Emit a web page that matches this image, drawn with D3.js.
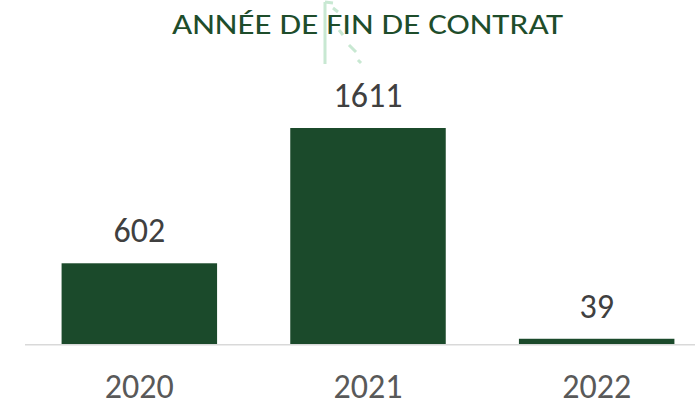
<!DOCTYPE html>
<html><head><meta charset="utf-8">
<script src="https://cdn.jsdelivr.net/npm/d3@7"></script>
<style>body{margin:0;background:#fff}svg{display:block}</style>
</head><body>
<svg id="c" width="695" height="408"></svg>
<script>
const categories = ["2020", "2021", "2022"];
const values = [602, 1611, 39];
const title = "ANNÉE DE FIN DE CONTRAT";

const svg = d3.select("#c");
const font = "Carlito, Lato, 'Open Sans', sans-serif";
const x = d3.scaleBand().domain(categories).range([25, 711]).paddingInner(0.32).paddingOuter(0.16);
const y = d3.scaleLinear().domain([0, 1611]).range([344, 128]);

// faint artifact near title
svg.append("path").attr("d", "M325,2 V64 M325,2 L333,3 M333,8 L338,12 M339,30 L343,35 M349,45 L356,52 M358,60 L361,63")
  .attr("stroke", "#c8e8d2").attr("stroke-width", 3).attr("fill", "none");

svg.append("text").attr("x", 367.5).attr("y", 34).attr("text-anchor", "middle")
  .attr("font-family", font).attr("font-size", 29).attr("fill", "#1e4d2b")
  .attr("textLength", 391).attr("lengthAdjust", "spacingAndGlyphs").text(title);

svg.append("line").attr("x1", 25).attr("x2", 695).attr("y1", y(0) + 0.75).attr("y2", y(0) + 0.75)
  .attr("stroke", "#d9d9d9").attr("stroke-width", 1.5);

svg.selectAll("rect.bar").data(values).join("rect").attr("class", "bar")
  .attr("x", (d, i) => x(categories[i])).attr("width", x.bandwidth())
  .attr("y", d => y(d)).attr("height", d => y(0) - y(d)).attr("fill", "#1b4a2b");

svg.selectAll("text.val").data(values).join("text").attr("class", "val")
  .attr("x", (d, i) => x(categories[i]) + x.bandwidth() / 2).attr("y", d => y(d) - 21)
  .attr("text-anchor", "middle").attr("font-family", font).attr("font-size", 34).attr("fill", "#404040").text(d => d);

const xa = svg.append("g").attr("transform", `translate(0,${y(0)})`)
  .call(d3.axisBottom(x).tickSize(0));
xa.select(".domain").remove();
xa.selectAll("text").attr("y", 54).attr("dy", 0)
  .attr("font-family", font).attr("font-size", 34).attr("fill", "#595959");
</script>
</body></html>
